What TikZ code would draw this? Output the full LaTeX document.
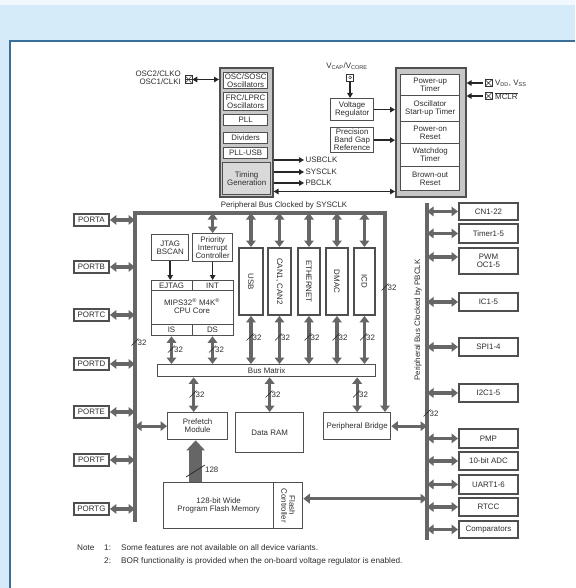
\documentclass[tikz,border=0pt]{standalone}
\usepackage{fontspec}
\setmainfont{Liberation Sans}
\usetikzlibrary{arrows.meta}
\definecolor{bgblue}{HTML}{D5EBF9}
\definecolor{frameblue}{HTML}{3A6F99}
\definecolor{dgray}{HTML}{666666}
\definecolor{bgray}{HTML}{4F4F4F}
\definecolor{txt}{HTML}{2E2E2E}
\newcommand\fs{\fontsize{7.9}{8}\selectfont}
\newcommand\fsn{\fontsize{8.2}{9}\selectfont}
\newcommand\blk[7]{\node[#6,anchor=north west,minimum width=#4pt,minimum height=#5pt] (#1) at (#2,#3) {#7};}
\newcommand\bwl[4]{\draw[black!85,line width=0.6pt] (#2-3.5,#3+3.5) -- (#2+3.5,#3-3.5); \node[lbl,anchor=west] (#1) at (#2+2.5,#3+1) {#4};}
\tikzset{
  bigtip/.tip={Triangle[width=9.5pt,length=6.5pt]},
  smltip/.tip={Triangle[width=5.5pt,length=5pt]},
  box/.style={draw=bgray,line width=1.3pt,fill=white,inner sep=0pt,align=center,font=\fs,text=txt},
  tbox/.style={box,line width=1.9pt},
  outer/.style={draw=bgray,line width=1.6pt,fill=black!22},
  lbl/.style={inner sep=0pt,font=\fs,text=txt,align=center},
  bus/.style={draw=dgray,line width=3.2pt},
  dbl/.style={draw=dgray,line width=3.2pt,bigtip-bigtip},
  tk/.style={draw=black!85,line width=1.5pt,-smltip},
  tkk/.style={draw=black!85,line width=1.5pt,smltip-smltip},
  pinx/.style={draw=black!80,line width=0.6pt,minimum size=7pt,inner sep=0pt,fill=white,
    path picture={\draw[black!80,line width=0.5pt] (path picture bounding box.north west) -- (path picture bounding box.south east) (path picture bounding box.north east) -- (path picture bounding box.south west);}},
  pind/.style={draw=black!80,line width=0.6pt,minimum size=7pt,inner sep=0pt,fill=white,
    path picture={\draw[black!80,line width=0.5pt] (path picture bounding box.center) circle (1.4pt);}},
  sep/.style={draw=bgray,line width=1pt}
}
\begin{document}
\begin{tikzpicture}[x=1pt,y=-1pt]
\useasboundingbox (0,0) rectangle (575,588);
\fill[bgblue] (0,0) rectangle (575,588);
\fill[bgblue!35] (0,0) rectangle (575,5);
\fill[white] (9.5,40.5) rectangle (575,588);
\draw[frameblue,line width=1.6pt] (9.8,588) -- (9.8,40.8) -- (575,40.8);

% ---------- clock block
\blk{clk}{219}{67}{53}{129}{outer}{}
\blk{osc}{223}{72}{44}{16}{box}{OSC/SOSC\\Oscillators}
\blk{frc}{223}{92}{44}{18}{box}{FRC/LPRC\\Oscillators}
\blk{pll}{223}{114}{44}{11}{box}{PLL}
\blk{div}{223}{132}{44}{11}{box}{Dividers}
\blk{pllu}{223}{147}{44}{11}{box}{PLL-USB}
\blk{tg}{222}{162}{48}{32}{box,fill=black!15}{Timing\\Generation}

\node[lbl,anchor=east,align=right] (osclbl) at (181,78) {OSC2/CLKO\\OSC1/CLKI};
\node[pinx,minimum width=7pt,minimum height=8pt] (oscpin) at (188.5,79.5) {};
\draw[black!80,line width=0.5pt] (oscpin.west) -- (oscpin.east);
\draw[tkk] (oscpin.east) -- (oscpin.east -| clk.west);

\coordinate (usbc) at (304,160);
\coordinate (sysc) at (304,172);
\coordinate (pbc) at (304,183);
\draw[tk] (usbc -| clk.east) -- (usbc);
\draw[tk] (sysc -| clk.east) -- (sysc);
\draw[tk] (pbc -| clk.east) -- (pbc);
\node[lbl,anchor=west] (usbcl) at ([xshift=1.5pt]usbc) {USBCLK};
\node[lbl,anchor=west] (syscl) at ([xshift=1.5pt]sysc) {SYSCLK};
\node[lbl,anchor=west] (pbcl) at ([xshift=1.5pt]pbc) {PBCLK};

% ---------- voltage / reset
\node[lbl] (vcaplbl) at (347,66) {V\textsubscript{CAP}/V\textsubscript{CORE}};
\node[pind] (vcpin) at (350,77.5) {};
\blk{vreg}{330}{98}{43}{22}{box}{Voltage\\Regulator}
\blk{bg}{330}{127}{43}{25}{box}{Precision\\Band Gap\\Reference}
\draw[tk] (vcpin.south) -- (vcpin.south |- vreg.north);

\blk{rst}{395}{67}{70}{129}{outer}{}
\blk{pwrt}{400}{74}{59}{21}{box}{Power-up\\Timer}
\blk{ost}{400}{95}{59}{26}{box}{Oscillator\\Start-up Timer}
\blk{por}{400}{121}{59}{22}{box}{Power-on\\Reset}
\blk{wdt}{400}{143}{59}{23}{box}{Watchdog\\Timer}
\blk{bor}{400}{166}{59}{24}{box}{Brown-out\\Reset}
\draw[tk] (vreg.east) -- (vreg.east -| rst.west);
\draw[tk] (bg.east) -- (bg.east -| rst.west);
\coordinate (lnk) at (330,191.5);
\draw[tkk] (lnk -| clk.east) -- (lnk -| rst.west);

\node[pinx] (vddpin) at (488.5,83) {};
\node[pinx] (mclrpin) at (488.5,96) {};
\draw[tk] ([xshift=-2pt]vddpin.west) -- (vddpin.west -| rst.east);
\draw[tk] ([xshift=-2pt]mclrpin.west) -- (mclrpin.west -| rst.east);
\node[lbl,anchor=west] (vddlbl) at (495,83) {V\textsubscript{DD}, V\textsubscript{SS}};
\node[lbl,anchor=west] (mclrlbl) at (495,96) {$\overline{\mbox{\fs MCLR}}$};

% ---------- SYSCLK bus
\node[lbl] (syslbl) at (284,205) {Peripheral Bus Clocked by SYSCLK};
\coordinate (sysL) at (135,213);
\coordinate (sysR) at (385,213);
\coordinate (sysB) at (135,522);

\blk{pbr}{323}{412}{67}{27}{box}{Peripheral Bridge}
\draw[bus,-bigtip] (sysB) -- (sysL) -- (sysR) -- (sysR |- pbr.north);

% ports
\blk{pa}{73}{213}{35}{12}{tbox}{PORTA}
\blk{pb}{73}{260}{35}{12}{tbox}{PORTB}
\blk{pc}{73}{308}{35}{12}{tbox}{PORTC}
\blk{pd}{73}{357}{35}{12}{tbox}{PORTD}
\blk{pe}{73}{405}{35}{12}{tbox}{PORTE}
\blk{pf}{73}{453}{35}{12}{tbox}{PORTF}
\blk{pg}{73}{502}{35}{12}{tbox}{PORTG}
\foreach \p in {pa,pb,pc,pd,pe,pf,pg}{\draw[dbl] (\p.east) -- (\p.east -| sysL);}
\bwl{w1}{135}{342}{32}

% CPU area
\blk{jtag}{151}{234}{37}{26}{box}{JTAG\\BSCAN}
\blk{pic}{192}{233}{40}{28}{box}{Priority\\Interrupt\\Controller}
\blk{cpu}{151}{280}{82}{55}{box}{}
\draw[sep] ([yshift=-10pt]cpu.north west) -- ([yshift=-10pt]cpu.north east);
\draw[sep] ([yshift=12pt]cpu.south west) -- ([yshift=12pt]cpu.south east);
\draw[sep] (cpu.north) -- ([yshift=-10pt]cpu.north);
\draw[sep] ([yshift=12pt]cpu.south) -- (cpu.south);
\node[lbl] (ejtag) at (171.5,285.5) {EJTAG};
\node[lbl] (int) at (212.5,285.5) {INT};
\node[lbl] (core) at (192,306.5) {MIPS32\textsuperscript{®} M4K\textsuperscript{®}\\CPU Core};
\node[lbl] (is) at (171.5,329.5) {IS};
\node[lbl] (ds) at (212.5,329.5) {DS};
\draw[tk] (jtag.south) -- (jtag.south |- cpu.north);
\draw[tk] (pic.south) -- (pic.south |- cpu.north);
\draw[dbl] (pic.north |- sysL) -- (pic.north);

% modules
\blk{usb}{238}{247}{24}{67}{tbox}{}
\blk{can}{267}{247}{23}{67}{tbox}{}
\blk{eth}{297}{247}{22}{67}{tbox}{}
\blk{dmac}{325}{247}{22}{67}{tbox}{}
\blk{icd}{353}{247}{21}{67}{tbox}{}
\node[lbl,rotate=-90] (usbt) at (usb.center) {USB};
\node[lbl,rotate=-90] (cant) at (can.center) {CAN1, CAN2};
\node[lbl,rotate=-90] (etht) at (eth.center) {ETHERNET};
\node[lbl,rotate=-90] (dmact) at (dmac.center) {DMAC};
\node[lbl,rotate=-90] (icdt) at (icd.center) {ICD};

\blk{bm}{157}{364}{218}{12}{box}{Bus Matrix}
\foreach \m in {usb,can,eth,dmac,icd}{
  \draw[dbl] (\m.north |- sysL) -- (\m.north);
  \draw[dbl] (\m.south) -- (\m.south |- bm.north);
}
\bwl{w2}{250}{337}{32}
\bwl{w3}{278.5}{337}{32}
\bwl{w4}{308}{337}{32}
\bwl{w5}{336}{337}{32}
\bwl{w6}{363.5}{337}{32}
\draw[dbl] (is.center |- cpu.south) -- (is.center |- bm.north);
\draw[dbl] (ds.center |- cpu.south) -- (ds.center |- bm.north);
\bwl{w7}{171.5}{349}{32}
\bwl{w8}{212.5}{349}{32}
\bwl{w9}{385}{287}{32}

% lower blocks
\blk{pref}{167}{412}{60}{27}{box}{Prefetch\\Module}
\blk{ram}{235}{412}{68}{40}{box}{Data RAM}
\draw[dbl] ([xshift=-4pt]pref.north |- bm.south) -- ([xshift=-4pt]pref.north);
\draw[dbl] (ram.north |- bm.south) -- (ram.north);
\draw[dbl] (pbr.north |- bm.south) -- (pbr.north);
\bwl{w10}{193}{394}{32}
\bwl{w11}{269}{394}{32}
\bwl{w12}{356.5}{394}{32}
\draw[dbl] (pref.west -| sysL) -- (pref.west);

\blk{flash}{163}{482}{110}{46}{box}{128-bit Wide\\Program Flash Memory}
\blk{fctl}{273}{482}{29}{46}{box}{}
\node[lbl,rotate=-90] (fctlt) at (fctl.center) {Flash\\Controller};
\coordinate (fa) at ([xshift=-2pt]flash.north -| pref.south);
\draw[draw=dgray,line width=13pt,-{Triangle[width=18pt,length=10pt]}] (fa) -- (fa |- pref.south);
\draw[black!85,line width=0.7pt] (186,477) -- (205,465);
\node[lbl,anchor=west] (w128) at (205,470) {128};

% ---------- PBCLK bus
\coordinate (pbT) at (427,203);
\coordinate (pbB) at (427,540);
\draw[bus] (pbT) -- (pbB);
\node[lbl,rotate=90] (pblbl) at (418,320) {Peripheral Bus Clocked by PBCLK};
\bwl{w13}{427}{413}{32}
\draw[dbl] (pbr.east) -- (pbr.east -| pbT);
\draw[dbl] ([yshift=7pt]fctl.east) -- ([yshift=7pt]fctl.east -| pbT);

\blk{cn}{458}{202}{59}{17}{tbox}{CN1-22}
\blk{tmr}{458}{223}{59}{19}{tbox}{Timer1-5}
\blk{pwm}{458}{247}{59}{26}{tbox}{PWM\\OC1-5}
\blk{ic}{458}{292}{59}{18}{tbox}{IC1-5}
\blk{spi}{458}{337}{59}{18}{tbox}{SPI1-4}
\blk{iic}{458}{383}{59}{18}{tbox}{I2C1-5}
\blk{pmp}{458}{428}{59}{19}{tbox}{PMP}
\blk{adc}{458}{451}{59}{18}{tbox}{10-bit ADC}
\blk{uart}{458}{474}{59}{19}{tbox}{UART1-6}
\blk{rtcc}{458}{497}{59}{18}{tbox}{RTCC}
\blk{cmp}{458}{520}{59}{17}{tbox}{Comparators}
\foreach \q in {cn,tmr,ic,spi,iic,pmp,adc,uart,rtcc,cmp}{\draw[dbl] (\q.west -| pbT) -- (\q.west);}
\draw[dbl] ([yshift=4pt]pwm.west -| pbT) -- ([yshift=4pt]pwm.west);

% ---------- notes
\node[lbl,anchor=west,font=\fsn] (note) at (77,548) {Note};
\node[lbl,anchor=west,font=\fsn] (n1) at (104,548) {1:};
\node[lbl,anchor=west,font=\fsn] (n1t) at (121,548) {Some features are not available on all device variants.};
\node[lbl,anchor=west,font=\fsn] (n2) at (104,561) {2:};
\node[lbl,anchor=west,font=\fsn] (n2t) at (121,561) {BOR functionality is provided when the on-board voltage regulator is enabled.};
\end{tikzpicture}
\end{document}
